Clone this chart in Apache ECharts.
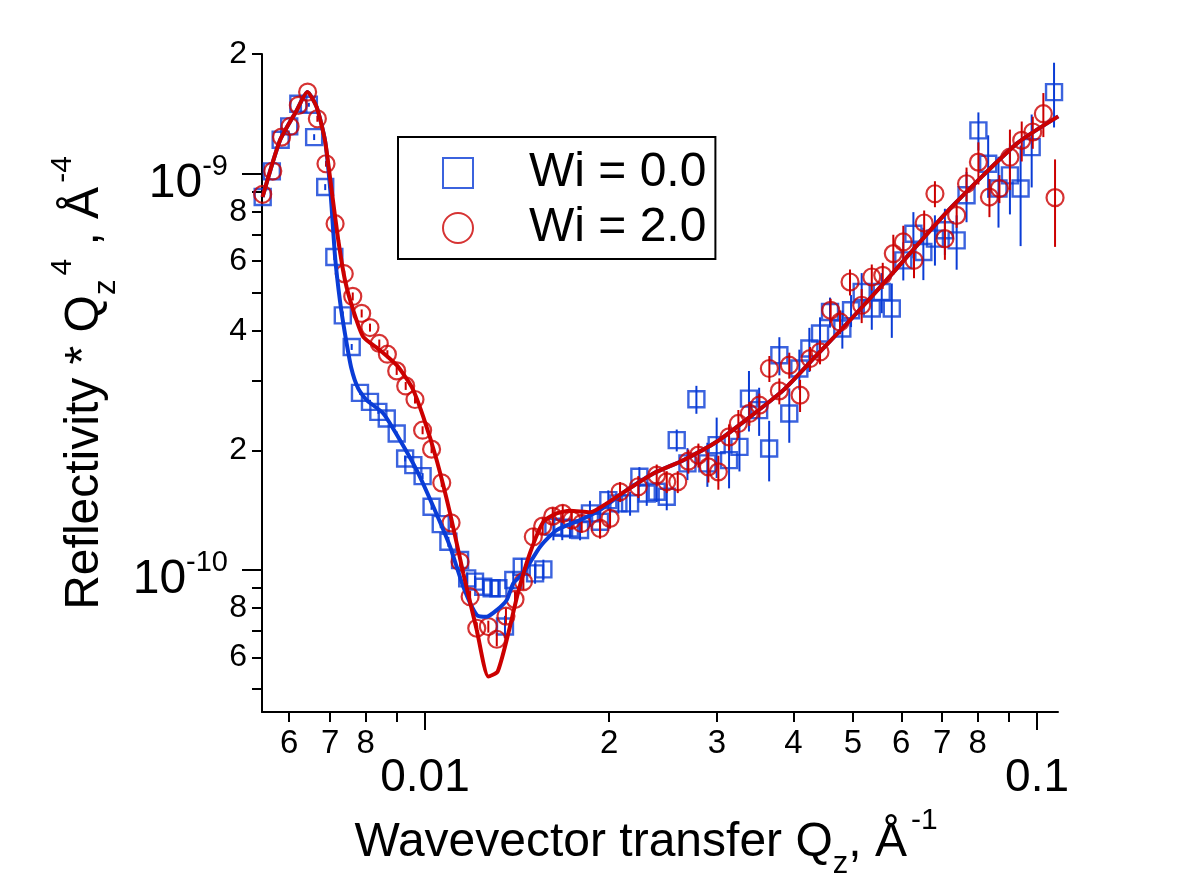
<!DOCTYPE html>
<html lang="en">
<head>
    <meta charset="UTF-8">
    <title>Reflectivity</title>
    <script src="https://cdn.jsdelivr.net/npm/echarts/dist/echarts.min.js"></script>
    <style>
        body { margin: 0; background: #fff; }
        #main { width: 1182px; height: 886px; }
    </style>
</head>
<body>
<div id="main"></div>
<script>
    // reflectivity values are in units of 1e-10, Q in 1/Angstrom
    const blueQ = [0.00543, 0.00562, 0.00581, 0.00600, 0.00621, 0.00646, 0.00659, 0.00687, 0.00711, 0.00734,
        0.00759, 0.00783, 0.00813, 0.00839, 0.00866, 0.00899, 0.00928, 0.00957, 0.00991, 0.01025,
        0.01061, 0.01092, 0.01141, 0.01172, 0.01207, 0.01245, 0.01285, 0.01318, 0.01351, 0.01394,
        0.01439, 0.01513, 0.01561, 0.01621, 0.01676, 0.01725, 0.01792, 0.01860, 0.01932, 0.01993,
        0.0207, 0.02163, 0.02240, 0.02303, 0.02391, 0.02483, 0.02578, 0.02684, 0.02776, 0.02893,
        0.02996, 0.03139, 0.03264, 0.03383, 0.03515, 0.03650, 0.03793, 0.03937, 0.04089, 0.04246,
        0.04420, 0.04589, 0.04807, 0.04967, 0.05170, 0.05370, 0.05575, 0.05790, 0.06046, 0.06280,
        0.06520, 0.06810, 0.07070, 0.07390, 0.07670, 0.08020, 0.08320, 0.08650, 0.09030, 0.09400,
        0.09800, 0.10660];
    const blueR = [8.71, 10.11, 12.15, 13.13, 14.98, 14.89, 12.34, 9.23, 6.15, 4.38,
        3.645, 2.792, 2.65, 2.50, 2.405, 2.205, 1.907, 1.834, 1.721, 1.44,
        1.302, 1.175, 1.057, 0.950, 0.932, 0.905, 0.897, 0.897, 0.718, 0.941,
        1.016, 0.978, 1.001, 1.282, 1.275, 1.27, 1.258, 1.386, 1.32, 1.497,
        1.469, 1.469, 1.714, 1.556, 1.571, 1.526, 2.121, 1.853, 2.69, 1.853,
        2.06, 1.888, 2.04, 2.70, 2.525, 2.021, 3.474, 2.477, 3.216, 3.612,
        3.941, 4.467, 4.057, 4.51, 5.017, 4.557, 5.017, 4.557, 6.03, 7.04,
        6.33, 6.84, 7.18, 6.77, 8.80, 12.83, 10.57, 9.15, 9.88, 9.15,
        11.64, 16.03];
    const blueErr = [0, 0, 0, 0, 0, 0.17, 0.21, 0.16, 0.11, 0.10,
        0.063, 0.032, 0.031, 0.029, 0.028, 0.026, 0.033, 0.032, 0.030, 0.025,
        0.030, 0.034, 0.031, 0.033, 0.032, 0.037, 0.042, 0.042, 0.046, 0.049,
        0.053, 0.057, 0.058, 0.097, 0.089, 0.074, 0.073, 0.105, 0.084, 0.087,
        0.085, 0.102, 0.099, 0.108, 0.091, 0.115, 0.135, 0.172, 0.218, 0.236,
        0.358, 0.285, 0.272, 0.47, 0.351, 0.352, 0.383, 0.388, 0.373, 0.461,
        0.389, 0.389, 0.447, 0.419, 0.582, 0.529, 0.582, 0.714, 0.665, 0.939,
        0.955, 0.992, 0.958, 1.06, 1.276, 1.414, 1.90, 1.857, 2.006, 2.60,
        2.43, 2.98];

    const redQ = [0.00543, 0.00564, 0.00583, 0.00602, 0.00621, 0.00643, 0.00667, 0.00689, 0.00713, 0.00738,
        0.00762, 0.00788, 0.00813, 0.00842, 0.00868, 0.00899, 0.00930, 0.00963, 0.00991, 0.01025,
        0.01065, 0.01103, 0.01141, 0.01185, 0.01215, 0.01269, 0.01310, 0.01356, 0.01403, 0.01448,
        0.01503, 0.01557, 0.01617, 0.01679, 0.01737, 0.01803, 0.01932, 0.02006, 0.02083, 0.02231,
        0.02391, 0.02483, 0.02588, 0.02693, 0.02797, 0.02904, 0.03015, 0.03139, 0.03251, 0.03388,
        0.03518, 0.03653, 0.03793, 0.03937, 0.04100, 0.04257, 0.04420, 0.04600, 0.04765, 0.04948,
        0.05170, 0.05370, 0.05596, 0.05823, 0.06046, 0.06295, 0.06540, 0.06810, 0.07070, 0.07390,
        0.07670, 0.08020, 0.08360, 0.08680, 0.09030, 0.09440, 0.09840, 0.10240, 0.10700];
    const redR = [8.85, 10.13, 12.34, 13.13, 14.84, 16.03, 13.73, 10.57, 7.46, 5.58,
        4.89, 4.43, 4.08, 3.72, 3.495, 3.172, 2.907, 2.686, 2.247, 2.013,
        1.655, 1.312, 1.046, 0.854, 0.711, 0.718, 0.667, 0.763, 0.841, 0.932,
        1.21, 1.287, 1.364, 1.386, 1.333, 1.307, 1.27, 1.346, 1.571, 1.618,
        1.731, 1.665, 1.665, 1.877, 1.944, 1.816, 1.764, 2.162, 2.337, 2.477,
        2.599, 3.216, 2.824, 3.279, 2.754, 3.408, 3.541, 4.51, 4.216, 5.317,
        4.645, 5.473, 5.527, 6.27, 6.71, 6.03, 7.49, 8.88, 6.84, 7.83,
        9.41, 10.67, 8.71, 9.15, 10.98, 12.11, 12.71, 14.14, 8.68];
    const redErr = [0, 0, 0, 0, 0, 0, 0.24, 0.18, 0.13, 0.097,
        0.113, 0.103, 0.095, 0.086, 0.081, 0.074, 0.067, 0.062, 0.052, 0.047,
        0.038, 0.038, 0.030, 0.030, 0.025, 0.025, 0.027, 0.035, 0.039, 0.043,
        0.063, 0.067, 0.071, 0.072, 0.070, 0.068, 0.074, 0.078, 0.091, 0.103,
        0.110, 0.106, 0.106, 0.131, 0.135, 0.158, 0.174, 0.163, 0.190, 0.172,
        0.181, 0.242, 0.213, 0.247, 0.256, 0.237, 0.246, 0.314, 0.293, 0.401,
        0.458, 0.413, 0.417, 0.727, 0.662, 0.595, 0.565, 0.670, 0.793, 0.545,
        0.928, 1.30, 0.960, 0.743, 1.91, 1.40, 1.18, 1.80, 2.16];

    // model fits
    const fitBlueQ = [0.005427, 0.005794, 0.006171, 0.006423, 0.006653, 0.006865, 0.00701, 0.00713, 0.00726, 0.0074,
        0.00758, 0.00778, 0.008029, 0.008548, 0.009103, 0.009692, 0.01032, 0.01099, 0.01155, 0.01215, 0.01261,
        0.0131, 0.0136, 0.01394, 0.01447, 0.01542, 0.01641, 0.01792, 0.01932, 0.02136, 0.02361,
        0.02642, 0.02996, 0.03396, 0.0385, 0.04365, 0.04948, 0.05609, 0.07207, 0.09265, 0.1083];
    const fitBlueR = [8.71, 12.1, 14.41, 16.03, 14.69, 12.1, 8.9, 6.15, 4.78, 3.94,
        3.22, 2.86, 2.676, 2.477, 2.121, 1.782, 1.44, 1.142, 0.905, 0.768, 0.760,
        0.790, 0.838, 0.923, 0.978, 1.142, 1.258, 1.333, 1.413, 1.586, 1.748,
        1.888, 2.101, 2.428, 2.836, 3.474, 4.257, 5.267, 8.14, 11.88, 13.92];
    const fitRedQ = [0.005427, 0.005794, 0.006171, 0.006423, 0.006653, 0.006865, 0.007039, 0.007217, 0.007401, 0.007635,
        0.007929, 0.008443, 0.00899, 0.009512, 0.009936, 0.01045, 0.01099, 0.01155, 0.01215, 0.01269,
        0.01314, 0.01366, 0.0142, 0.01484, 0.01561, 0.01641, 0.01725, 0.0186, 0.01981, 0.02136,
        0.02361, 0.02642, 0.02996, 0.03396, 0.0385, 0.04365, 0.04948, 0.05609, 0.07207, 0.09265, 0.1083];
    const fitRedR = [8.71, 12.1, 14.41, 16.03, 14.69, 12.1, 9.05, 6.77, 5.37, 4.51,
        3.864, 3.577, 3.279, 2.89, 2.428, 1.888, 1.386, 0.978, 0.704, 0.537,
        0.5525, 0.6837, 0.8776, 1.099, 1.32, 1.386, 1.407, 1.394, 1.469, 1.586,
        1.748, 1.888, 2.101, 2.428, 2.836, 3.474, 4.257, 5.267, 8.14, 11.88, 13.92];

    // axes
    const xMin = 0.005416, xMax = 0.1082;
    const yMin = 4.37e-11, yMax = 2e-9;
    const xMajor = [0.01, 0.1];
    const xMinor = [0.006, 0.007, 0.008, 0.009, 0.02, 0.03, 0.04, 0.05, 0.06, 0.07, 0.08, 0.09];
    const xLabelVals = [0.006, 0.007, 0.008, 0.01, 0.02, 0.03, 0.04, 0.05, 0.06, 0.07, 0.08, 0.1];
    const xLabelText = ['6', '7', '8', '0.01', '2', '3', '4', '5', '6', '7', '8', '0.1'];
    const yMajor = [1e-10, 1e-9];
    const yMinor = [5e-11, 6e-11, 7e-11, 8e-11, 9e-11, 2e-10, 3e-10, 4e-10, 5e-10, 6e-10, 7e-10, 8e-10, 9e-10, 2e-9];
    const yLabelVals = [6e-11, 8e-11, 1e-10, 2e-10, 4e-10, 6e-10, 8e-10, 1e-9, 2e-9];
    const yLabelText = ['6', '8', '-10', '2', '4', '6', '8', '-9', '2'];

    const BLUE = '#0a3cd6';
    const RED = '#cc0000';
    const FONT = 'Liberation Sans, Arial, sans-serif';

    function lookup(vals, texts, v) {
        for (let i = 0; i < vals.length; i++) {
            if (Math.abs(Math.log10(v / vals[i])) < 1e-6) return texts[i];
        }
        return '';
    }
    function isIn(list, v) {
        return list.some(m => Math.abs(Math.log10(v / m)) < 1e-6);
    }

    function errorBars(color) {
        return function (params, api) {
            const q = api.value(0), r = api.value(1), e = api.value(2);
            if (!e) return {type: 'group', children: []};
            const lo = api.coord([q, r - e]);
            const hi = api.coord([q, r + e]);
            return {
                type: 'line',
                shape: {x1: lo[0], y1: lo[1], x2: hi[0], y2: hi[1]},
                style: {stroke: color, lineWidth: 2}
            };
        };
    }

    const blueData = blueQ.map((q, i) => [q, blueR[i] * 1e-10]);
    const redData = redQ.map((q, i) => [q, redR[i] * 1e-10]);
    const blueErrData = blueQ.map((q, i) => [q, blueR[i] * 1e-10, blueErr[i] * 1e-10]);
    const redErrData = redQ.map((q, i) => [q, redR[i] * 1e-10, redErr[i] * 1e-10]);
    const fitBlue = fitBlueQ.map((q, i) => [q, fitBlueR[i] * 1e-10]);
    const fitRed = fitRedQ.map((q, i) => [q, fitRedR[i] * 1e-10]);

    const chart = echarts.init(document.getElementById('main'));
    chart.setOption({
        animation: false,
        backgroundColor: '#fff',
        textStyle: {fontFamily: FONT},
        grid: {left: 262, right: 124, top: 54, bottom: 174},
        legend: {
            data: ['Wi = 0.0', 'Wi = 2.0'],
            orient: 'vertical',
            left: 398,
            top: 137,
            padding: [12, 9, 7, 44],
            itemGap: 7,
            itemWidth: 30,
            itemHeight: 30,
            borderColor: '#000',
            borderWidth: 2,
            selectedMode: false,
            formatter: name => '{t|' + name + '}',
            textStyle: {
                rich: {
                    t: {fontSize: 48, lineHeight: 30, color: '#000', fontFamily: FONT, padding: [0, 0, 0, 51]}
                }
            }
        },
        xAxis: [{
            type: 'log',
            logBase: 10,
            min: xMin,
            max: xMax,
            position: 'bottom',
            name: '{n|Wavevector transfer Q}{sub|z}{n|, Å}{sup|-1}',
            nameLocation: 'middle',
            nameGap: 86,
            nameTextStyle: {
                rich: {
                    n: {fontSize: 48, lineHeight: 74, color: '#000', fontFamily: FONT},
                    sub: {fontSize: 31, lineHeight: 26, verticalAlign: 'bottom', color: '#000', fontFamily: FONT},
                    sup: {fontSize: 30, lineHeight: 26, verticalAlign: 'top', color: '#000', fontFamily: FONT, padding: [0, 28, 0, 4]}
                }
            },
            axisLine: {show: true, lineStyle: {color: '#000', width: 2}},
            axisTick: {show: true, customValues: xMinor, length: 10, lineStyle: {color: '#000', width: 2}},
            splitLine: {show: false},
            axisLabel: {
                customValues: xLabelVals,
                margin: 15,
                formatter: v => {
                    const t = lookup(xLabelVals, xLabelText, v);
                    return isIn(xMajor, v) ? '{b|' + t + '}' : '{s|' + t + '}';
                },
                rich: {
                    s: {fontSize: 33, lineHeight: 33, color: '#000', fontFamily: FONT},
                    b: {fontSize: 46, lineHeight: 46, color: '#000', fontFamily: FONT, padding: [56, 0, 0, 0]}
                }
            }
        }, {
            type: 'log',
            logBase: 10,
            min: xMin,
            max: xMax,
            position: 'bottom',
            axisLine: {show: false},
            axisTick: {show: true, customValues: xMajor, length: 18, lineStyle: {color: '#000', width: 2}},
            axisLabel: {show: false},
            splitLine: {show: false}
        }],
        yAxis: [{
            type: 'log',
            logBase: 10,
            min: yMin,
            max: yMax,
            position: 'left',
            name: '{n|Reflectivity * Q}{sub|z}{sup|4}{n| , Å}{sup|-4}',
            nameLocation: 'middle',
            nameGap: 140,
            nameRotate: 90,
            nameTextStyle: {
                rich: {
                    n: {fontSize: 48, lineHeight: 74, color: '#000', fontFamily: FONT},
                    sub: {fontSize: 31, lineHeight: 26, verticalAlign: 'bottom', color: '#000', fontFamily: FONT},
                    sup: {fontSize: 30, lineHeight: 26, verticalAlign: 'top', color: '#000', fontFamily: FONT, padding: [0, 0, 0, 4]}
                }
            },
            axisLine: {show: true, lineStyle: {color: '#000', width: 2}},
            axisTick: {show: true, customValues: yMinor, length: 10, lineStyle: {color: '#000', width: 2}},
            splitLine: {show: false},
            axisLabel: {
                customValues: yLabelVals,
                margin: 15,
                formatter: v => {
                    const t = lookup(yLabelVals, yLabelText, v);
                    return isIn(yMajor, v) ? '{b|10}{p|' + t + '}' : '{s|' + t + '}';
                },
                rich: {
                    s: {fontSize: 32, lineHeight: 32, color: '#000', fontFamily: FONT},
                    b: {fontSize: 48, lineHeight: 48, color: '#000', fontFamily: FONT, padding: [20, 0, 0, 0]},
                    p: {fontSize: 29, lineHeight: 29, verticalAlign: 'top', color: '#000', fontFamily: FONT, padding: [3, 19, 0, 0]}
                }
            }
        }, {
            type: 'log',
            logBase: 10,
            min: yMin,
            max: yMax,
            position: 'left',
            axisLine: {show: false},
            axisTick: {show: true, customValues: yMajor, length: 20, lineStyle: {color: '#000', width: 2}},
            axisLabel: {show: false},
            splitLine: {show: false}
        }],
        series: [
            {
                name: 'errBlue',
                type: 'custom',
                renderItem: errorBars(BLUE),
                dimensions: ['q', 'r', 'e'],
                encode: {x: 0, y: 1},
                data: blueErrData,
                z: 2
            },
            {
                name: 'Wi = 0.0',
                type: 'scatter',
                symbol: 'rect',
                symbolSize: 16,
                itemStyle: {color: 'rgba(0,0,0,0)', borderColor: BLUE, borderWidth: 2.4},
                data: blueData,
                z: 3
            },
            {
                name: 'errRed',
                type: 'custom',
                renderItem: errorBars(RED),
                dimensions: ['q', 'r', 'e'],
                encode: {x: 0, y: 1},
                data: redErrData,
                z: 4
            },
            {
                name: 'Wi = 2.0',
                type: 'scatter',
                symbol: 'circle',
                symbolSize: 17,
                itemStyle: {color: 'rgba(0,0,0,0)', borderColor: RED, borderWidth: 2.2},
                data: redData,
                z: 5
            },
            {
                name: 'fitBlue',
                type: 'line',
                data: fitBlue,
                showSymbol: false,
                smooth: 0.2,
                lineStyle: {color: BLUE, width: 4},
                z: 6
            },
            {
                name: 'fitRed',
                type: 'line',
                data: fitRed,
                showSymbol: false,
                smooth: 0.2,
                lineStyle: {color: RED, width: 4},
                z: 7
            }
        ]
    });
</script>
</body>
</html>
